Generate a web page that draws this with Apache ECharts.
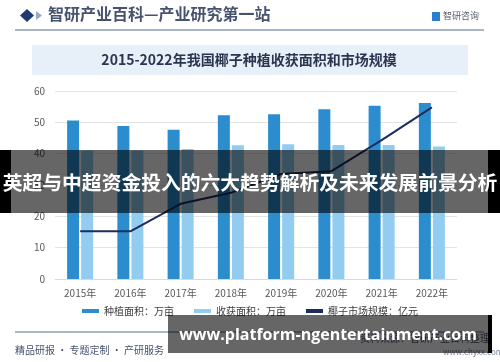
<!DOCTYPE html>
<html><head><meta charset="utf-8">
<script src="https://cdn.jsdelivr.net/npm/echarts@6/dist/echarts.min.js"></script>
<style>html,body{margin:0;padding:0;background:#fff}#c{width:500px;height:362px}</style>
</head><body><div id="c"></div>
<script>
var categories = ['2015年','2016年','2017年','2018年','2019年','2020年','2021年','2022年'];
var plantArea = [50.6, 48.8, 47.6, 52.3, 52.6, 54.2, 55.3, 56.2];
var harvestArea = [41.0, 41.0, 41.5, 42.7, 43.0, 42.8, 42.8, 42.3];
var marketSize = [15.2, 15.2, 24.0, 27.5, 33.5, 34.4, 44.3, 54.8];
var yTicks = [0, 10, 20, 30, 40, 50, 60];
var seriesNames = ['种植面积：万亩', '收获面积：万亩', '椰子市场规模：亿元'];

var cjk = '"Noto Sans CJK SC", "Noto Sans", sans-serif';
var chart = echarts.init(document.getElementById('c'), null, {renderer:'canvas'});
chart.setOption({
  animation: false,
  backgroundColor: '#ffffff',
  textStyle: {fontFamily: cjk},
  grid: {left: 55, right: 43, top: 91, bottom: 83},
  legend: {
    top: 301, left: 'center', itemWidth: 17, itemHeight: 4, itemGap: 20,
    textStyle: {fontSize: 10, color: '#404040', fontFamily: cjk},
    data: [
      {name: seriesNames[0], icon: 'rect'},
      {name: seriesNames[1], icon: 'rect'},
      {name: seriesNames[2], icon: 'rect'}
    ]
  },
  xAxis: {
    type: 'category', data: categories,
    axisLine: {lineStyle: {color: '#d9d9d9'}},
    axisTick: {show: false},
    axisLabel: {fontSize: 10, color: '#595959', margin: 9, fontFamily: cjk}
  },
  yAxis: {
    type: 'value', min: yTicks[0], max: yTicks[yTicks.length-1], interval: 10,
    axisLine: {show: false}, axisTick: {show: false},
    axisLabel: {fontSize: 10, color: '#595959', margin: 10},
    splitLine: {lineStyle: {color: '#e3e3e3'}}
  },
  series: [
    {name: seriesNames[0], type: 'bar', data: plantArea, barWidth: 12, barGap: '17%',
     itemStyle: {color: '#2b8dce'}},
    {name: seriesNames[1], type: 'bar', data: harvestArea, barWidth: 12,
     itemStyle: {color: '#92cdf1'}},
    {name: seriesNames[2], type: 'line', data: marketSize, symbol: 'none',
     lineStyle: {color: '#1c2c5e', width: 2}, itemStyle: {color: '#1c2c5e'}}
  ],
  graphic: [
    {type: 'polygon', shape: {points: [[27,9],[34,15.5],[27,22],[20,15.5]]}, style: {fill: '#1f3a6e'}},
    {type: 'polygon', shape: {points: [[36,11],[42,15.5],[36,20]]}, style: {fill: '#9aaac4'}},
    {type: 'text', left: 48, top: 6, style: {text: '智研产业百科—产业研究第一站', font: 'bold 16px ' + cjk, fill: '#46526e'}},
    {type: 'rect', shape: {x: 432, y: 12, width: 8, height: 9}, style: {fill: '#2b7fd0'}},
    {type: 'text', left: 443, top: 11, style: {text: '智研咨询', font: '9px ' + cjk, fill: '#555c6a'}},
    {type: 'line', shape: {x1: 15, y1: 30, x2: 484, y2: 30}, style: {stroke: '#8d9bb0', lineWidth: 1.5}},
    {type: 'rect', shape: {x: 32, y: 45, width: 436, height: 30}, style: {fill: '#e7eff8'}},
    {type: 'text', x: 249, y: 60, style: {text: '2015-2022年我国椰子种植收获面积和市场规模', font: 'bold 14px ' + cjk, fill: '#2b3550', textAlign: 'center', textVerticalAlign: 'middle'}},
    {type: 'line', shape: {x1: 15, y1: 332, x2: 484, y2: 332}, style: {stroke: '#8d9bb0', lineWidth: 1.5}},
    {type: 'text', left: 15, top: 345, style: {text: '精品研报 · 专题定制 · 产研服务', font: '10px ' + cjk, fill: '#46526e'}},
    {type: 'text', left: 360, top: 333, style: {text: '资料来源：智研产业百科整理', font: '10px ' + cjk, fill: '#46526e'}},
    {type: 'text', left: 443, top: 348, style: {text: 'www.chyxx.com', font: '8px ' + cjk, fill: '#7a8499'}},
    {type: 'rect', z: 100, shape: {x: 0, y: 150, width: 11, height: 63}, style: {fill: '#000000'}},
    {type: 'rect', z: 100, shape: {x: 488, y: 150, width: 12, height: 63}, style: {fill: '#000000'}},
    {type: 'rect', z: 101, shape: {x: 11, y: 150, width: 477, height: 63}, style: {fill: 'rgba(0,0,0,0.6)'}},
    {type: 'text', z: 102, x: 250, y: 182, style: {text: '英超与中超资金投入的六大趋势解析及未来发展前景分析', font: 'bold 19.8px ' + cjk, fill: '#ffffff', textAlign: 'center', textVerticalAlign: 'middle'}},
    {type: 'rect', z: 100, shape: {x: 488, y: 315, width: 4, height: 38}, style: {fill: '#000000'}},
    {type: 'rect', z: 101, shape: {x: 168, y: 315, width: 320, height: 38}, style: {fill: 'rgba(0,0,0,0.6)'}},
    {type: 'text', z: 102, x: 328, y: 335, style: {text: 'www.platform-ngentertainment.com', font: 'bold 16px "Open Sans", sans-serif', fill: '#ffffff', textAlign: 'center', textVerticalAlign: 'middle'}}
  ]
});
</script></body></html>
